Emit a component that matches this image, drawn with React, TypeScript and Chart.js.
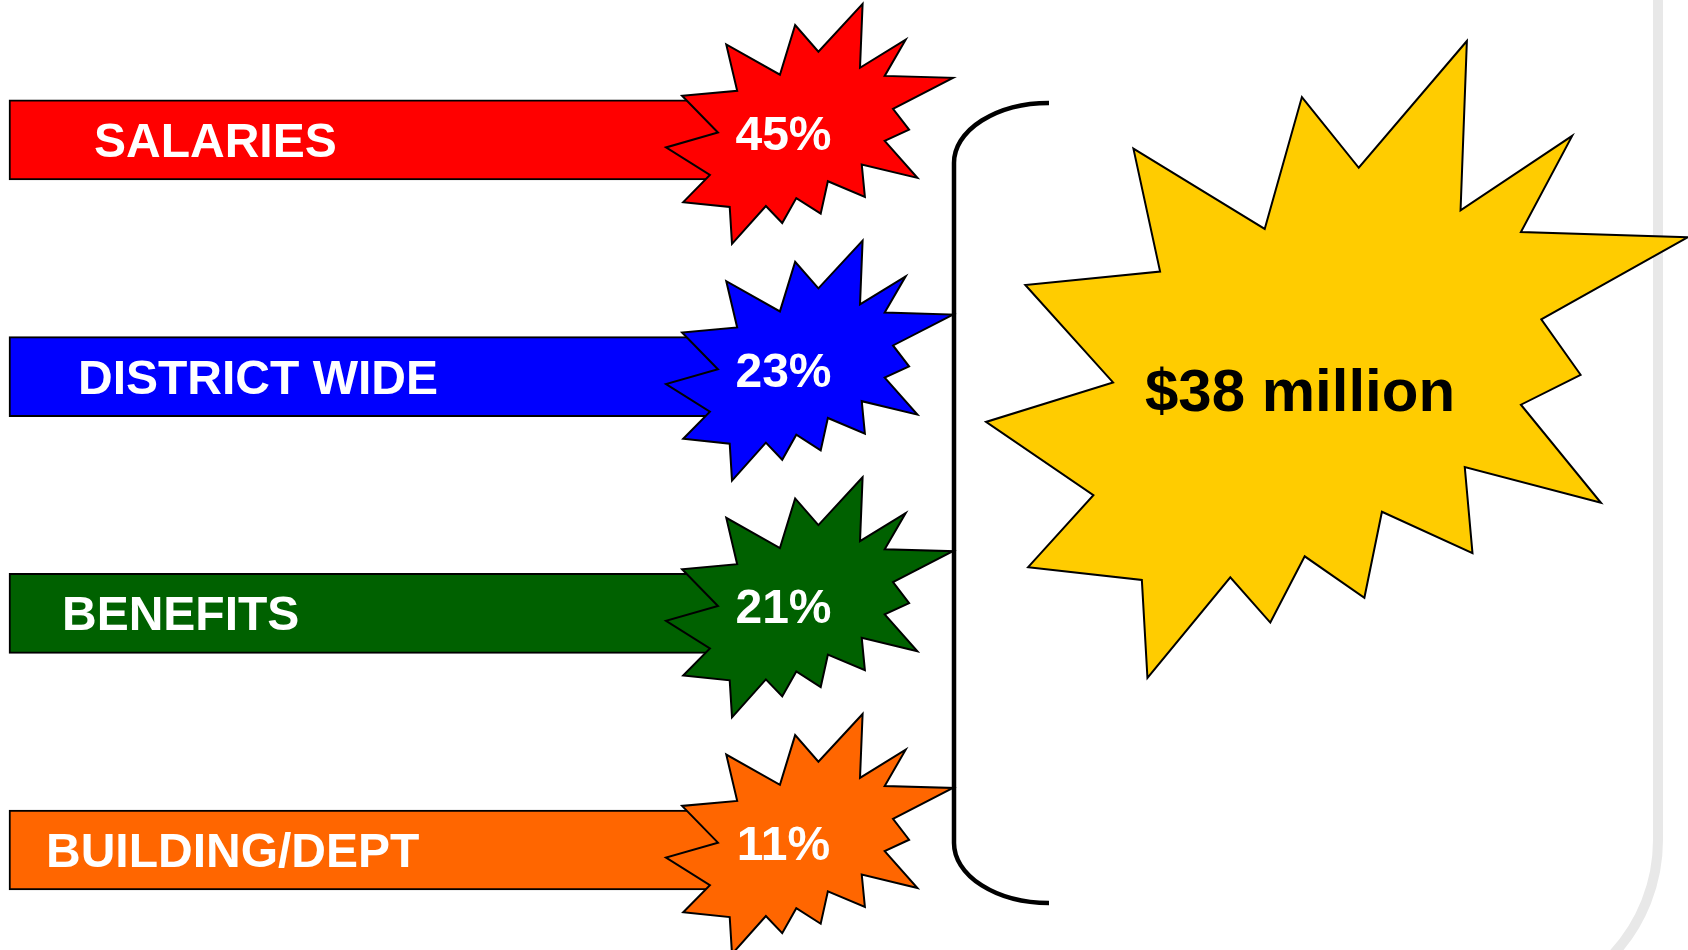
import React, { useEffect, useRef } from "react";
import { Chart, registerables } from "chart.js";

Chart.register(...registerables);

// ---- data ----
const categories = ["SALARIES", "DISTRICT WIDE", "BENEFITS", "BUILDING/DEPT"];
const shares = [45, 23, 21, 11];
const barColors = ["#FF0000", "#0000FF", "#006100", "#FF6600"];
const totalLabel = "$38 million";
const totalColor = "#FFCC00";

// ---- layout / style (not data) ----
const W = 1688;
const H = 950;
const ROW_TOP = 139.9;
const ROW_STEP = 236.7;
const BAR_START = 9;
const BAR_END = 809.5;
const BAR_THICKNESS = 80;
const FONT = '"Liberation Sans", Arial, Helvetica, sans-serif';

// explosion shape template, normalised to its bounding box
const STAR_SHAPE: [number, number][] = [
  [0.685, 0], [0.531, 0.199], [0.45, 0.088], [0.397, 0.295], [0.21, 0.169],
  [0.248, 0.362], [0.056, 0.383], [0.181, 0.536], [0, 0.598], [0.153, 0.713],
  [0.06, 0.826], [0.222, 0.846], [0.23, 1], [0.348, 0.842], [0.405, 0.913],
  [0.454, 0.809], [0.539, 0.874], [0.564, 0.739], [0.693, 0.804], [0.682, 0.669],
  [0.876, 0.725], [0.762, 0.571], [0.847, 0.524], [0.791, 0.437], [1, 0.308],
  [0.762, 0.3], [0.835, 0.149], [0.676, 0.266],
];

function drawStar(ctx: CanvasRenderingContext2D, cx: number, cy: number, w: number, h: number, fill: string) {
  ctx.save();
  ctx.beginPath();
  STAR_SHAPE.forEach(([u, v], k) => {
    const px = cx + (u - 0.5) * w;
    const py = cy + (v - 0.5) * h;
    if (k === 0) ctx.moveTo(px, py);
    else ctx.lineTo(px, py);
  });
  ctx.closePath();
  ctx.fillStyle = fill;
  ctx.fill();
  ctx.lineWidth = 2;
  ctx.lineJoin = "miter";
  ctx.miterLimit = 20;
  ctx.strokeStyle = "#000";
  ctx.stroke();
  ctx.restore();
}

function centeredText(ctx: CanvasRenderingContext2D, text: string, x: number, cy: number, size: number, color: string, align: CanvasTextAlign) {
  ctx.save();
  ctx.font = `bold ${size}px ${FONT}`;
  ctx.fillStyle = color;
  ctx.textAlign = align;
  ctx.textBaseline = "alphabetic";
  ctx.fillText(text, x, cy + size * 0.716 / 2);
  ctx.restore();
}

const decorPlugin = {
  id: "decor",
  beforeDatasetsDraw(chart: any) {
    const ctx: CanvasRenderingContext2D = chart.ctx;
    const bars = chart.getDatasetMeta(0).data;
    // slide frame
    ctx.save();
    ctx.strokeStyle = "#e8e8e8";
    ctx.lineWidth = 10;
    ctx.beginPath();
    ctx.moveTo(1658, -10);
    ctx.lineTo(1658, 840);
    ctx.arc(1490, 840, 168, 0, Math.PI / 2);
    ctx.stroke();
    ctx.restore();
    // bracket
    const top = bars[0].y - 37;
    const bottom = bars[bars.length - 1].y + 53;
    const bx = 954;
    const rx = 95;
    const ry = 60;
    ctx.save();
    ctx.strokeStyle = "#000";
    ctx.lineWidth = 4.5;
    ctx.beginPath();
    ctx.moveTo(bx + rx, top);
    ctx.ellipse(bx + rx, top + ry, rx, ry, 0, -Math.PI / 2, Math.PI, true);
    ctx.lineTo(bx, bottom - ry);
    ctx.ellipse(bx + rx, bottom - ry, rx, ry, 0, Math.PI, Math.PI / 2, true);
    ctx.stroke();
    ctx.restore();
  },
  afterDatasetsDraw(chart: any) {
    const ctx: CanvasRenderingContext2D = chart.ctx;
    const bars = chart.getDatasetMeta(0).data;
    bars.forEach((bar: any, i: number) => {
      centeredText(ctx, categories[i], 94 - 16 * i, bar.y, 48, "#fff", "left");
      drawStar(ctx, bar.x, bar.y - 16, 287, 240, barColors[i]);
      centeredText(ctx, `${shares[i]}%`, bar.x - 26, bar.y - 7, 48, "#fff", "center");
    });
    drawStar(ctx, 1337, 359.5, 702, 637, totalColor);
    centeredText(ctx, totalLabel, 1300, 390, 60, "#000", "center");
  },
};

export default function App() {
  const ref = useRef<HTMLCanvasElement | null>(null);
  useEffect(() => {
    if (!ref.current) return;
    const chart = new Chart(ref.current, {
      type: "bar",
      data: {
        datasets: [
          {
            data: categories.map((_, i) => ({ y: i, x: [BAR_START, BAR_END] })) as any,
            backgroundColor: barColors,
            borderColor: "#000",
            borderWidth: 2,
            borderSkipped: false,
            barThickness: BAR_THICKNESS,
          },
        ],
      },
      options: {
        indexAxis: "y",
        animation: false,
        responsive: false,
        devicePixelRatio: 1,
        events: [],
        layout: { padding: 0 },
        plugins: { legend: { display: false }, tooltip: { enabled: false } },
        scales: {
          x: { type: "linear", min: 0, max: W, display: false, offset: false },
          y: {
            type: "linear",
            reverse: true,
            min: -ROW_TOP / ROW_STEP,
            max: (H - ROW_TOP) / ROW_STEP,
            display: false,
            offset: false,
          },
        },
      },
      plugins: [decorPlugin],
    });
    return () => chart.destroy();
  }, []);
  return (
    <div style={{ position: "absolute", left: 0, top: 0, width: W, height: H, background: "#fff" }}>
      <canvas ref={ref} width={W} height={H} style={{ display: "block" }} />
    </div>
  );
}
